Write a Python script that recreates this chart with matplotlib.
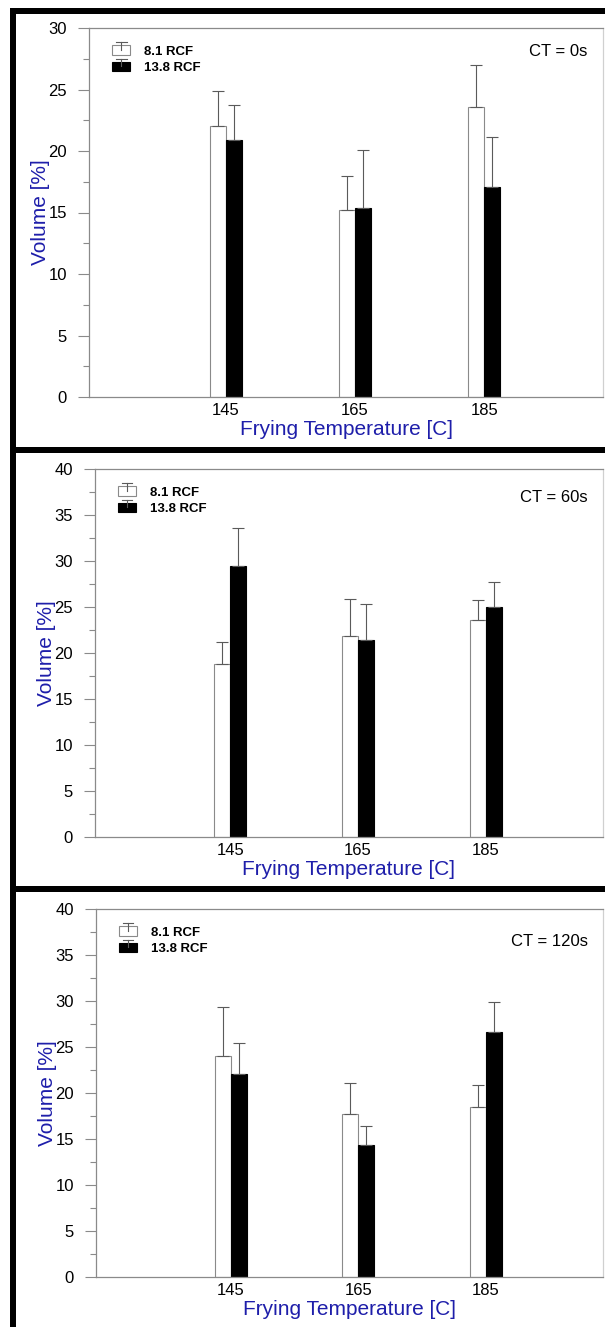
import matplotlib
matplotlib.use("Agg")
import numpy as np
import matplotlib.pyplot as plt
from matplotlib.patches import Rectangle
from matplotlib.lines import Line2D
from matplotlib.legend_handler import HandlerBase
from matplotlib.ticker import MultipleLocator

plt.rcParams["font.family"] = ["Liberation Sans", "DejaVu Sans"]

# ---- data -------------------------------------------------------------
temps = [145, 165, 185]
series_labels = ["8.1 RCF", "13.8 RCF"]
ct_labels = ["CT = 0s", "CT = 60s", "CT = 120s"]
y_tops = [30, 40, 40]

vol_81_ct0 = [22.0, 15.2, 23.6]
err_81_ct0 = [2.9, 2.8, 3.4]
vol_138_ct0 = [20.9, 15.4, 17.1]
err_138_ct0 = [2.8, 4.7, 4.0]

vol_81_ct60 = [18.8, 21.9, 23.6]
err_81_ct60 = [2.4, 4.0, 2.2]
vol_138_ct60 = [29.5, 21.4, 25.0]
err_138_ct60 = [4.1, 3.9, 2.7]

vol_81_ct120 = [24.0, 17.7, 18.5]
err_81_ct120 = [5.3, 3.4, 2.4]
vol_138_ct120 = [22.1, 14.3, 26.6]
err_138_ct120 = [3.3, 2.1, 3.3]

panels = [
    (vol_81_ct0, err_81_ct0, vol_138_ct0, err_138_ct0),
    (vol_81_ct60, err_81_ct60, vol_138_ct60, err_138_ct60),
    (vol_81_ct120, err_81_ct120, vol_138_ct120, err_138_ct120),
]

# ---- style ------------------------------------------------------------
W, H = 605, 1327
BLUE = "#1e1eaa"
AXC = "#8a8a8a"
ERRC = "#5a5a5a"
BAR_W = 2.5

# axes boxes in pixels: left, top, right, bottom
boxes = [(89, 28, 603, 397), (95, 469, 603, 837), (96, 909, 603, 1277)]
# legend / annotation rows
ct_y = [52, 498, 941]


class BarErrHandler(HandlerBase):
    """Legend key: small bar with a one-sided error whisker."""

    def create_artists(self, legend, orig_handle, xdescent, ydescent,
                       width, height, fontsize, trans):
        p = orig_handle.patches[0]
        x0, y0 = -xdescent, -ydescent
        w = width
        rect = Rectangle((x0, y0), w, height, facecolor=p.get_facecolor(),
                         edgecolor=p.get_edgecolor(), lw=0.8, transform=trans)
        cx = x0 + w / 2
        top = y0 + height + 2.0
        stem = Line2D([cx, cx], [y0 + height * 0.5, top], color=ERRC, lw=0.8,
                      transform=trans)
        cap = Line2D([cx - w * 0.3, cx + w * 0.3], [top, top], color=ERRC,
                     lw=0.8, transform=trans)
        return [rect, stem, cap]


fig = plt.figure(figsize=(W / 100, H / 100), dpi=100)
x = np.array(temps, dtype=float)

for i, (v81, e81, v138, e138) in enumerate(panels):
    l, t, r, b = boxes[i]
    ax = fig.add_axes([l / W, 1 - b / H, (r - l) / W, (b - t) / H])

    ekw = dict(ecolor=ERRC, elinewidth=0.8, capthick=0.8)
    b81 = ax.bar(x - BAR_W / 2, v81, BAR_W, color="white", edgecolor=AXC,
                 linewidth=0.8, yerr=[np.zeros(3), e81], capsize=4.5,
                 error_kw=ekw, label=series_labels[0], zorder=2)
    b138 = ax.bar(x + BAR_W / 2, v138, BAR_W, color="black", edgecolor="black",
                  linewidth=0.8, yerr=[np.zeros(3), e138], capsize=4.5,
                  error_kw=ekw, label=series_labels[1], zorder=2)

    ax.set_xlim(123.8, 203.4)
    ax.set_ylim(0, y_tops[i])
    ax.set_xticks(temps)
    ax.set_xticklabels([str(tv) for tv in temps])
    ax.yaxis.set_major_locator(MultipleLocator(5))
    ax.yaxis.set_minor_locator(MultipleLocator(2.5))
    ax.tick_params(axis="y", which="major", length=8, width=0.8, color=AXC,
                   labelsize=12, pad=8)
    ax.tick_params(axis="y", which="minor", length=4, width=0.8, color=AXC)
    ax.tick_params(axis="x", length=0, labelsize=12, pad=4)
    for s in ax.spines.values():
        s.set_color(AXC)
        s.set_linewidth(0.9)
    ax.spines["right"].set_color("#d0d0d0")

    ax.set_ylabel("Volume [%]", color=BLUE, fontsize=15, labelpad=-1)
    ax.set_xlabel("Frying Temperature [C]", color=BLUE, fontsize=15, labelpad=2)

    ax.legend(handles=[b81, b138], labels=series_labels,
              handler_map={b81: BarErrHandler(), b138: BarErrHandler()},
              loc="upper left", bbox_to_anchor=(0.03, 0.975), frameon=False,
              prop={"weight": "bold", "size": 9.5}, handlelength=1.35,
              handleheight=0.75, handletextpad=1.05, labelspacing=0.3,
              borderaxespad=0.2)

    ax.text(0.97, 1 - (ct_y[i] - t) / (b - t), ct_labels[i], transform=ax.transAxes,
            ha="right", va="center", fontsize=12)

# thick black frame lines around and between the panels
frame = [(10, 8, 6, H - 8), (10, 8, W - 10, 6), (10, 447, W - 10, 6),
         (10, 886, W - 10, 6)]
for fx, fy, fw, fh in frame:
    fig.add_artist(Rectangle((fx / W, 1 - (fy + fh) / H), fw / W, fh / H,
                             transform=fig.transFigure, facecolor="black",
                             edgecolor="none"))

fig.savefig("out.png", dpi=100)
